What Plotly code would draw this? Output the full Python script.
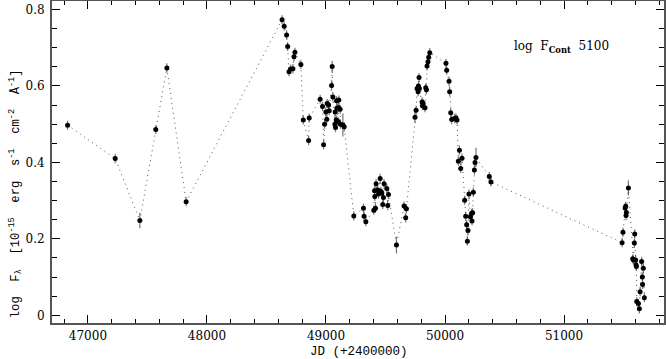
import plotly.graph_objects as go

jd = [46829, 47229, 47436, 47570, 47663, 47825,
      48631, 48649, 48669, 48678, 48689, 48703, 48722, 48731, 48739, 48789,
      48809, 48854, 48859, 48951, 48971, 48980, 48988, 48999, 49007, 49010,
      49022, 49027, 49047, 49052, 49058, 49075, 49077, 49080, 49086, 49089,
      49093, 49102, 49106, 49108, 49119, 49122, 49142, 49153,
      49234, 49315, 49320, 49335,
      49402, 49408, 49410, 49416, 49421, 49435, 49441, 49455, 49461, 49469,
      49477, 49483, 49488, 49511, 49519, 49525,
      49592, 49656, 49670, 49676,
      49748, 49757, 49765, 49774, 49777, 49782, 49785, 49807, 49810, 49815,
      49832, 49838, 49844, 49849, 49857, 49863, 49872,
      50008, 50014, 50034, 50039, 50048, 50056, 50081, 50092, 50101,
      50112, 50121, 50132, 50143, 50165, 50174, 50182, 50188, 50193, 50201,
      50213, 50224, 50227, 50232, 50238, 50247, 50252, 50260,
      50372, 50386,
      51488, 51495, 51513, 51518, 51521, 51524, 51541, 51577, 51583, 51591,
      51594, 51602, 51605, 51608, 51611, 51625, 51633, 51639, 51652, 51658,
      51660, 51666, 51675]

log_f = [0.497, 0.410, 0.248, 0.486, 0.647, 0.297,
         0.773, 0.756, 0.733, 0.703, 0.637, 0.644, 0.645, 0.676, 0.688, 0.656,
         0.511, 0.457, 0.516, 0.565, 0.546, 0.446, 0.500, 0.532, 0.513, 0.554,
         0.550, 0.535, 0.601, 0.651, 0.571, 0.500, 0.532, 0.491, 0.511, 0.561,
         0.542, 0.507, 0.543, 0.563, 0.539, 0.500, 0.498, 0.493,
         0.260, 0.280, 0.259, 0.245,
         0.275, 0.326, 0.311, 0.280, 0.344, 0.328, 0.317, 0.358, 0.324, 0.320,
         0.290, 0.308, 0.344, 0.332, 0.287, 0.316,
         0.184, 0.286, 0.255, 0.279,
         0.518, 0.536, 0.593, 0.585, 0.600, 0.622, 0.593, 0.558, 0.548, 0.555,
         0.543, 0.595, 0.590, 0.652, 0.663, 0.675, 0.687,
         0.659, 0.641, 0.612, 0.585, 0.530, 0.512, 0.515, 0.516, 0.511,
         0.403, 0.432, 0.384, 0.411, 0.301, 0.259, 0.237, 0.194, 0.222, 0.317,
         0.258, 0.267, 0.247, 0.268, 0.322, 0.380, 0.400, 0.413,
         0.363, 0.349,
         0.190, 0.217, 0.281, 0.285, 0.261, 0.269, 0.333, 0.148, 0.145, 0.189,
         0.213, 0.145, 0.132, 0.128, 0.036, 0.031, 0.017, 0.062, 0.141, 0.100,
         0.081, 0.123, 0.046]

err = [0.012] * len(jd)
big_err = {47436: 0.02, 49142: 0.03, 49592: 0.022, 50260: 0.025, 51541: 0.02,
           49052: 0.015, 49748: 0.015}
for i, t in enumerate(jd):
    if t in big_err:
        err[i] = big_err[t]

x_ticks = [47000, 48000, 49000, 50000, 51000]
y_ticks = [0, 0.2, 0.4, 0.6, 0.8]
y_tick_text = ["0", "0.2", "0.4", "0.6", "0.8"]

fig = go.Figure()
fig.add_trace(go.Scatter(
    x=jd, y=log_f, mode="lines+markers",
    line=dict(color="#555555", width=1, dash="1px,4px"),
    marker=dict(color="black", size=5),
    error_y=dict(type="data", array=err, visible=True, color="#777777",
                 thickness=1.2, width=0),
    showlegend=False,
))

fig.add_annotation(
    x=0.751, y=0.857, xref="paper", yref="paper", xanchor="left", yanchor="middle",
    text="log  F<sub><b>Cont</b></sub>  5100", showarrow=False,
    font=dict(family="DejaVu Serif", size=12, color="black"),
)
fig.add_annotation(
    x=0.502, y=-0.089, xref="paper", yref="paper", xanchor="center", yanchor="middle",
    text="JD (+2400000)", showarrow=False,
    font=dict(family="Liberation Mono", size=12.5, color="black"),
)
fig.add_annotation(
    x=-0.0588, y=0.40, xref="paper", yref="paper", xanchor="center", yanchor="middle",
    textangle=-90,
    text="log  F<sub>λ</sub>  [10<sup>-15</sup>  erg  s<sup>-1</sup>  cm<sup>-2</sup>  Å<sup>-1</sup>]",
    showarrow=False,
    font=dict(family="Liberation Mono", size=12.2, color="black"),
)

axis_common = dict(
    showline=True, linecolor="#555555", linewidth=2, mirror="allticks",
    ticks="inside", tickcolor="black", tickwidth=1, ticklen=8,
    showgrid=False, zeroline=False, automargin=False,
    tickfont=dict(family="DejaVu Serif", size=12, color="black"),
)

fig.update_xaxes(
    range=[46698, 51840], tickvals=x_ticks,
    ticktext=[str(v) for v in x_ticks], ticklabelstandoff=1,
    minor=dict(dtick=200, tick0=47000, ticks="inside", ticklen=4,
               tickcolor="black", tickwidth=1, showgrid=False),
    **axis_common,
)
fig.update_yaxes(
    range=[-0.020, 0.822], tickvals=y_ticks, ticktext=y_tick_text,
    ticklabelstandoff=3,
    minor=dict(dtick=0.05, tick0=0, ticks="inside", ticklen=5,
               tickcolor="black", tickwidth=1, showgrid=False),
    **axis_common,
)

fig.update_layout(
    width=666, height=359,
    margin=dict(l=52, r=2, t=1, b=36),
    plot_bgcolor="white", paper_bgcolor="white",
)

fig.write_html("out.html", config={"displayModeBar": False},
               post_script="document.body.style.margin='0';document.body.style.overflow='hidden';")
